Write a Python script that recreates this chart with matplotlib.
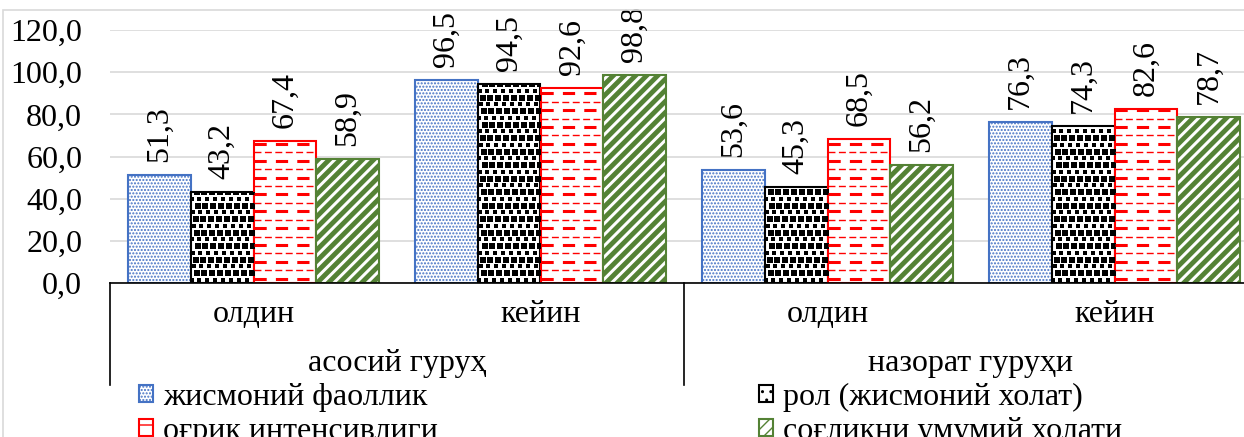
import matplotlib.pyplot as plt
import matplotlib as mpl
from matplotlib.patches import Patch, Rectangle
import numpy as np

plt.rcParams['font.family'] = ['Liberation Serif', 'DejaVu Serif']

categories = ['олдин', 'кейин', 'олдин', 'кейин']
groups = ['асосий гуруҳ', 'назорат гуруҳи']
series_names = ['жисмоний фаоллик', 'рол (жисмоний холат)',
                'оғрик интенсивлиги', 'соғликни умумий холати']
physical = [51.3, 96.5, 53.6, 76.3]
role = [43.2, 94.5, 45.3, 74.3]
pain = [67.4, 92.6, 68.5, 82.6]
health = [58.9, 98.8, 56.2, 78.7]
yticks = [0, 20, 40, 60, 80, 100, 120]

values = [physical, role, pain, health]
styles = [
    dict(edgecolor='#4472C4', hatch='.....', hlw=1.0),
    dict(edgecolor='black', hatch='', hlw=1.0),
    dict(edgecolor='#FF0000', hatch='', hlw=1.0),
    dict(edgecolor='#548235', hatch='///', hlw=3.5),
]

W, H = 1244, 437
fig = plt.figure(figsize=(W / 100, H / 100), dpi=100)
ax = fig.add_axes([110 / W, 154 / H, 1148 / W, 253 / H])

x = np.arange(len(categories))
bw = 0.219
fs = 23

for i, (vals, st) in enumerate(zip(values, styles)):
    with mpl.rc_context({'hatch.linewidth': st['hlw']}):
        bars = ax.bar(x + (i - 1.5) * bw, vals, bw, facecolor='white',
                      edgecolor=st['edgecolor'], hatch=st['hatch'], linewidth=1.5, zorder=2)
    if i == 1:
        # staggered square confetti fill
        for b in bars:
            xs = np.linspace(b.get_x(), b.get_x() + b.get_width(), 9)[:-1]
            dx = xs[1] - xs[0]
            for k, yy in enumerate(np.arange(1.5, b.get_height(), 3.2)):
                shift = (k % 2) * dx / 2 + (k % 3 - 1) * dx / 8
                sc = ax.scatter(xs + shift + dx / 4, np.full(len(xs), yy), marker='s',
                                s=16 if k % 2 else 12, color='black', linewidths=0, zorder=2.5)
                sc.set_clip_path(b)
    if i == 2:
        # dashed horizontal fill, alternating heavy and light rows
        for b in bars:
            for k, yy in enumerate(np.arange(2, b.get_height(), 4.0)):
                ln, = ax.plot([b.get_x(), b.get_x() + b.get_width()], [yy, yy],
                              color='#FF0000', lw=2.2 if k % 2 == 0 else 1.0,
                              dashes=(4, 3) if k % 2 == 0 else (5, 2.5), zorder=2.5)
                ln.set_clip_path(b)
    for b, v in zip(bars, vals):
        ax.annotate(f'{v:.1f}'.replace('.', ','), (b.get_x() + b.get_width() / 2, v),
                    xytext=(0, 13), textcoords='offset pixels', rotation=90,
                    ha='center', va='bottom', fontsize=fs, annotation_clip=False)

ax.set_xlim(-0.5, 3.5)
ax.set_ylim(0, 120)
ax.set_yticks(yticks)
ax.set_yticklabels([f'{t:.1f}'.replace('.', ',') for t in yticks], fontsize=fs)
ax.tick_params(axis='y', length=0, pad=20)
ax.tick_params(axis='x', length=0, bottom=False, labelbottom=False)
ax.grid(axis='y', color='#D9D9D9', linewidth=1.2)
ax.set_axisbelow(True)
for s in ['left', 'right', 'top']:
    ax.spines[s].set_visible(False)
ax.spines['bottom'].set_color('black')
ax.spines['bottom'].set_linewidth(1.2)

# two-level category axis
tr = ax.get_xaxis_transform()
for c, lbl in zip(x, categories):
    ax.text(c, -32 / 253, lbl, transform=tr, ha='center', va='center', fontsize=fs)
for g, lbl in enumerate(groups):
    ax.text(2 * g + 0.5, -80 / 253, lbl, transform=tr, ha='center', va='center', fontsize=fs)
for sx in [-0.5, 1.5, 3.5]:
    ax.plot([sx, sx], [0, -102 / 253], transform=tr, color='black', lw=1.2, clip_on=False)

# chart area border
fig.patches.append(Rectangle((3 / W, -0.1), 1.2, 1 - 10 / H + 0.1, transform=fig.transFigure,
                             fill=False, edgecolor='#D9D9D9', lw=1.2))

legend_hatch = ['.....', '..', '-', '///']
handles = []
for name, st, hh in zip(series_names, styles, legend_hatch):
    with mpl.rc_context({'hatch.linewidth': 2.5 if hh == '..' else st['hlw']}):
        handles.append(Patch(facecolor='white', edgecolor=st['edgecolor'],
                             hatch=hh, label=name, linewidth=1.5))
order = [0, 2, 1, 3]
fig.legend([handles[i] for i in order], [series_names[i] for i in order],
           ncol=2, loc='upper left', bbox_to_anchor=(139 / W, 1 - 383 / H),
           frameon=False, fontsize=fs, handlelength=0.45, handleheight=0.45,
           handletextpad=0.3, columnspacing=10.05, labelspacing=0.15,
           borderaxespad=0, borderpad=0)

fig.savefig('out.png', dpi=100)
